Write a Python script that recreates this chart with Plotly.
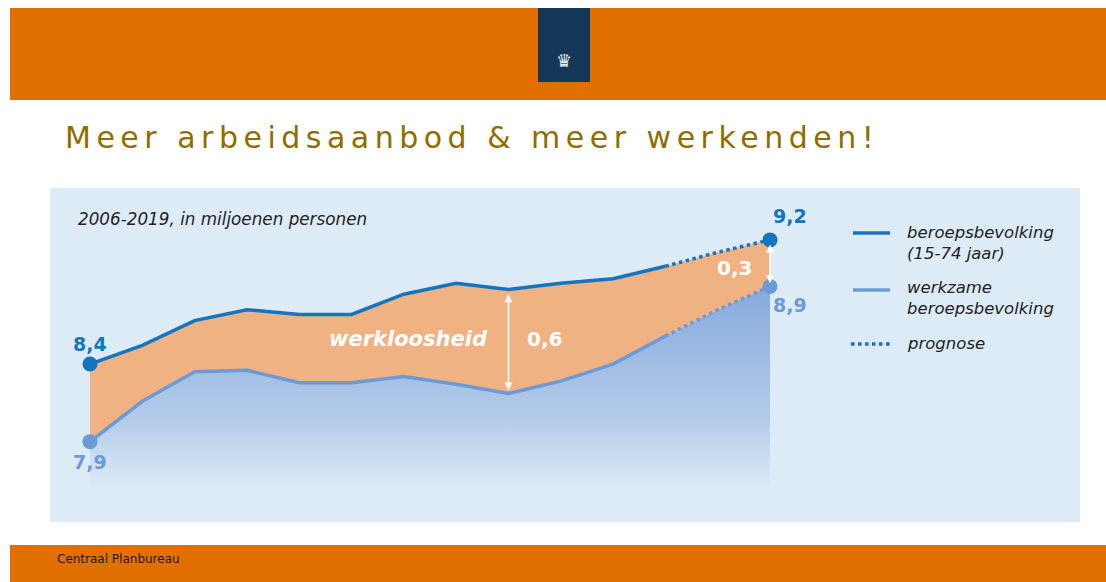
import plotly.graph_objects as go

# ---- data (millions of persons) ----
years = [2006, 2007, 2008, 2009, 2010, 2011, 2012, 2013, 2014, 2015, 2016, 2017, 2018, 2019]
beroepsbevolking = [8.40, 8.52, 8.68, 8.75, 8.72, 8.72, 8.85, 8.92, 8.88, 8.92, 8.95, 9.03, 9.12, 9.20]
werkzame = [7.90, 8.16, 8.35, 8.36, 8.28, 8.28, 8.32, 8.27, 8.21, 8.29, 8.40, 8.58, 8.75, 8.90]
last_actual_year = 2017
gradient_floor = 7.59  # value where the blue area fades into the panel

end_labels_left = ["8,4", "7,9"]
end_labels_right = ["9,2", "8,9"]
gap_labels = ["0,6", "0,3"]

W, H = 1106, 582
ML, MR, MT, MB = 50, 26, 188, 60
PW, PH = W - ML - MR, H - MT - MB


def px(x):
    return (x - ML) / PW


def py(y):
    return (H - MB - y) / PH


DARK_BLUE = "#1474bd"
LIGHT_BLUE = "#6b9bd6"
ORANGE_FILL = "#f0b183"
PANEL = "#dcebf6"
BANNER = "#e17000"
NUMFONT = "DejaVu Sans"
TXTFONT = "DejaVu Sans"

idx = years.index(last_actual_year)

fig = go.Figure()

# base for the blue gradient area
fig.add_trace(go.Scatter(x=years, y=[gradient_floor] * len(years), mode="lines",
                         line=dict(width=0, color=PANEL), hoverinfo="skip", showlegend=False))
# blue gradient area under werkzame beroepsbevolking
fig.add_trace(go.Scatter(x=years, y=werkzame, mode="none", fill="tonexty",
                         fillgradient=dict(type="vertical", start=gradient_floor, stop=max(werkzame),
                                           colorscale=[[0, PANEL], [0.35, "#b3cbe9"], [1, "#86a9dc"]]),
                         hoverinfo="skip", showlegend=False))
# orange area = werkloosheid
fig.add_trace(go.Scatter(x=years, y=beroepsbevolking, mode="none", fill="tonexty",
                         fillcolor=ORANGE_FILL, hoverinfo="skip", showlegend=False))

# lines: solid (realised) + dotted (prognose)
for series, color, name in [(werkzame, LIGHT_BLUE, "werkzame beroepsbevolking"),
                            (beroepsbevolking, DARK_BLUE, "beroepsbevolking (15-74 jaar)")]:
    fig.add_trace(go.Scatter(x=years[:idx + 1], y=series[:idx + 1], mode="lines", name=name,
                             line=dict(color=color, width=3.5), showlegend=False))
    fig.add_trace(go.Scatter(x=years[idx:], y=series[idx:], mode="lines", name=name + " prognose",
                             line=dict(color=color, width=3.5, dash="dot"), showlegend=False))
    fig.add_trace(go.Scatter(x=[years[0], years[-1]], y=[series[0], series[-1]], mode="markers",
                             marker=dict(color=color, size=15), cliponaxis=False,
                             hoverinfo="skip", showlegend=False))

# ---- slide decoration ----
shapes = [
    dict(type="rect", xref="paper", yref="paper", x0=px(10), x1=px(W), y0=py(8), y1=py(100),
         fillcolor=BANNER, line=dict(width=0)),
    dict(type="rect", xref="paper", yref="paper", x0=px(538), x1=px(590), y0=py(8), y1=py(82),
         fillcolor="#15375a", line=dict(width=0)),
    dict(type="rect", xref="paper", yref="paper", x0=px(10), x1=px(W), y0=py(545), y1=py(H),
         fillcolor=BANNER, line=dict(width=0)),
    # legend samples
    dict(type="line", xref="paper", yref="paper", x0=px(853), x1=px(890), y0=py(233), y1=py(233),
         line=dict(color=DARK_BLUE, width=3.5)),
    dict(type="line", xref="paper", yref="paper", x0=px(853), x1=px(890), y0=py(290), y1=py(290),
         line=dict(color=LIGHT_BLUE, width=3.5)),
    dict(type="line", xref="paper", yref="paper", x0=px(851), x1=px(890), y0=py(344), y1=py(344),
         line=dict(color=DARK_BLUE, width=3.5, dash="dot")),
]

ann = []
# title
ann.append(dict(text="Meer arbeidsaanbod &amp; meer werkenden!", xref="paper", yref="paper",
                x=px(63), y=py(137), xanchor="left", yanchor="middle", align="left", showarrow=False,
                font=dict(family="DejaVu Sans", size=30, color="#8f6d00")))
# logo hint
ann.append(dict(text="♛", xref="paper", yref="paper", x=px(564), y=py(60), showarrow=False,
                xanchor="center", yanchor="middle", font=dict(size=18, color="#e8eef5")))
# footer
ann.append(dict(text="Centraal Planbureau", xref="paper", yref="paper", x=px(55), y=py(559),
                xanchor="left", yanchor="middle", showarrow=False,
                font=dict(family="DejaVu Sans", size=12, color="#1a1a1a")))
# subtitle
ann.append(dict(text="<i>2006-2019, in miljoenen personen</i>", xref="paper", yref="paper",
                x=px(76), y=py(219), xanchor="left", yanchor="middle", showarrow=False,
                font=dict(family=TXTFONT, size=16.8, color="#222222")))
# legend texts
for txt, ypix in [("beroepsbevolking<br>(15-74 jaar)", 243), ("werkzame<br>beroepsbevolking", 298),
                  ("prognose", 343)]:
    ann.append(dict(text="<i>" + txt + "</i>", xref="paper", yref="paper", x=px(905), y=py(ypix),
                    xanchor="left", yanchor="middle", align="left", showarrow=False,
                    font=dict(family=TXTFONT, size=16.5, color="#222222")))

# end value labels
ann.append(dict(text="<b>" + end_labels_left[0] + "</b>", x=years[0], y=beroepsbevolking[0],
                yshift=20, showarrow=False, font=dict(family=NUMFONT, size=19, color=DARK_BLUE)))
ann.append(dict(text="<b>" + end_labels_left[1] + "</b>", x=years[0], y=werkzame[0],
                yshift=-20, showarrow=False, font=dict(family=NUMFONT, size=19, color=LIGHT_BLUE)))
ann.append(dict(text="<b>" + end_labels_right[0] + "</b>", x=years[-1], y=beroepsbevolking[-1],
                xshift=20, yshift=24, showarrow=False, font=dict(family=NUMFONT, size=19, color=DARK_BLUE)))
ann.append(dict(text="<b>" + end_labels_right[1] + "</b>", x=years[-1], y=werkzame[-1],
                xshift=20, yshift=-19, showarrow=False, font=dict(family=NUMFONT, size=19, color=LIGHT_BLUE)))

# gap arrows
for yr in [2014, 2019]:
    i = years.index(yr)
    top, bot = beroepsbevolking[i], werkzame[i]
    pad = 0.02
    ann.append(dict(x=yr, y=bot + pad, ax=yr, ay=top - pad, xref="x", yref="y", axref="x", ayref="y",
                    text="", showarrow=True, arrowhead=2, arrowside="end+start", arrowsize=1,
                    arrowwidth=1.6, arrowcolor="white"))

# gap labels
ann.append(dict(text="<b><i>werkloosheid</i></b>", x=2012.08, y=8.56, showarrow=False,
                font=dict(family=NUMFONT, size=21, color="white")))
ann.append(dict(text="<b>" + gap_labels[0] + "</b>", x=2014.68, y=8.56, showarrow=False,
                font=dict(family=NUMFONT, size=20, color="white")))
ann.append(dict(text="<b>" + gap_labels[1] + "</b>", x=2018.33, y=9.02, showarrow=False,
                font=dict(family=NUMFONT, size=20, color="white")))

x_left = 2006 - (90 - ML) / ((770 - 90) / 13)
x_right = x_left + PW / ((770 - 90) / 13)
y_scale = 155.2
y_top = 8.6 + (333 - MT) / y_scale
y_bottom = 8.6 - (H - MB - 333) / y_scale

fig.update_layout(
    width=W, height=H,
    margin=dict(l=ML, r=MR, t=MT, b=MB, pad=0),
    paper_bgcolor="white", plot_bgcolor=PANEL,
    xaxis=dict(range=[x_left, x_right], visible=False, showgrid=False, zeroline=False),
    yaxis=dict(range=[y_bottom, y_top], visible=False, showgrid=False, zeroline=False),
    shapes=shapes, annotations=ann, showlegend=False,
    font=dict(family=TXTFONT),
)

post = """
document.body.style.margin='0';
document.body.style.overflow='hidden';
document.querySelectorAll('.annotation-text').forEach(function(el){
  if (el.textContent.indexOf('Meer arbeids') === 0) { el.style.letterSpacing = '5.5px'; }
});
"""
fig.write_html("out.html", config={"displayModeBar": False}, post_script=post)
